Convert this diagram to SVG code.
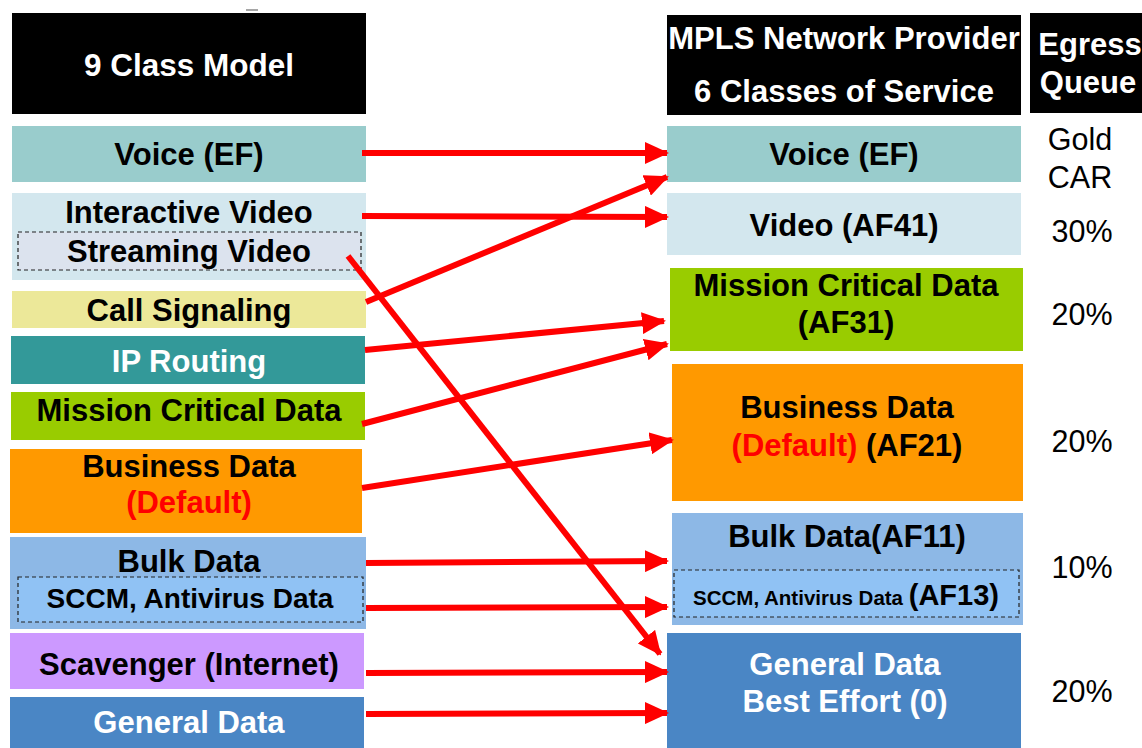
<svg xmlns="http://www.w3.org/2000/svg" width="1142" height="748" viewBox="0 0 1142 748">
<style>
text{font-family:"Liberation Sans",Arial,sans-serif;font-weight:bold;text-anchor:middle;fill:#000}
.w{fill:#fff}
.r{fill:#ff0000}
.lbl{font-size:31px}
.hd{font-size:31.5px}
.pct{font-weight:normal;font-size:30.5px}
.dash{stroke:#222;stroke-width:1.2;stroke-dasharray:4 3}
.arr{stroke:#ff0000;stroke-width:6;fill:none;marker-end:url(#ah)}
</style>
<defs>
<marker id="ah" markerUnits="userSpaceOnUse" markerWidth="24" markerHeight="22" refX="22" refY="11" orient="auto">
<path d="M0,0 L24,11 L0,22 Z" fill="#ff0000"/>
</marker>
</defs>
<rect width="1142" height="748" fill="#fff"/>
<line x1="246" y1="10" x2="258" y2="10" stroke="#888" stroke-width="1.5"/>

<g id="left-header"><rect x="12" y="13" width="354" height="101" fill="#000"/><text x="189" y="76" class="w hd">9 Class Model</text></g>
<g id="l-voice"><rect x="12" y="126" width="354" height="56" fill="#99cccc"/><text x="189" y="165" class="lbl">Voice (EF)</text></g>
<g id="l-video"><rect x="12" y="193" width="354" height="87" fill="#d3e7ee"/><rect x="18" y="232" width="343" height="38" fill="#dce3ee" class="dash"/><text x="189" y="223" class="lbl">Interactive Video</text><text x="189" y="262" class="lbl">Streaming Video</text></g>
<g id="l-call"><rect x="12" y="291" width="354" height="37" fill="#ece899"/><text x="189" y="321" class="lbl">Call Signaling</text></g>
<g id="l-ip"><rect x="11" y="336" width="354" height="48" fill="#339999"/><text x="189" y="372" class="lbl w">IP Routing</text></g>
<g id="l-mission"><rect x="11" y="392" width="354" height="48" fill="#99cc00"/><text x="189" y="421" class="lbl">Mission Critical Data</text></g>
<g id="l-business"><rect x="10" y="449" width="352" height="84" fill="#ff9900"/><text x="189" y="477" class="lbl">Business Data</text><text x="189" y="513" class="lbl r">(Default)</text></g>
<g id="l-bulk"><rect x="10" y="537" width="356" height="92" fill="#8db8e6"/><rect x="18" y="577" width="345" height="45" fill="#90c2f4" class="dash"/><text x="189" y="572" class="lbl">Bulk Data</text><text x="190" y="608" font-size="28">SCCM, Antivirus Data</text></g>
<g id="l-scavenger"><rect x="10" y="633" width="354" height="56" fill="#cc99ff"/><text x="189" y="675" class="lbl">Scavenger (Internet)</text></g>
<g id="l-general"><rect x="10" y="697" width="354" height="51" fill="#4a86c5"/><text x="189" y="733" class="lbl w">General Data</text></g>

<g id="right-header"><rect x="667" y="15" width="354" height="100" fill="#000"/><text x="844" y="49" class="w" font-size="31">MPLS Network Provider</text><text x="844" y="102" class="w" font-size="31">6 Classes of Service</text></g>
<g id="egress-header"><rect x="1030" y="13" width="112" height="100" fill="#000"/><text x="1090" y="55" class="w" font-size="31">Egress</text><text x="1088" y="93" class="w" font-size="31">Queue</text></g>
<g id="r-voice"><rect x="667" y="126" width="354" height="56" fill="#99cccc"/><text x="844" y="165" class="lbl">Voice (EF)</text></g>
<g id="r-video"><rect x="667" y="193" width="354" height="62" fill="#d3e7ee"/><text x="844" y="236" class="lbl">Video (AF41)</text></g>
<g id="r-mission"><rect x="670" y="268" width="353" height="83" fill="#99cc00"/><text x="846" y="296" class="lbl">Mission Critical Data</text><text x="846" y="333" class="lbl">(AF31)</text></g>
<g id="r-business"><rect x="672" y="364" width="351" height="137" fill="#ff9900"/><text x="847" y="418" class="lbl">Business Data</text><text x="847" y="456" class="lbl"><tspan class="r">(Default)</tspan> (AF21)</text></g>
<g id="r-bulk"><rect x="672" y="513" width="351" height="112" fill="#8db8e6"/><rect x="674" y="570" width="345" height="47" fill="#90c2f4" class="dash"/><text x="847" y="547" class="lbl">Bulk Data(AF11)</text><text x="846" y="605"><tspan font-size="20.5">SCCM, Antivirus  Data </tspan><tspan font-size="29">(AF13)</tspan></text></g>
<g id="r-general"><rect x="667" y="633" width="354" height="115" fill="#4a86c5"/><text x="845" y="675" class="lbl w">General Data</text><text x="845" y="712" class="lbl w">Best Effort (0)</text></g>

<g id="egress">
<text x="1080" y="150" class="pct">Gold</text>
<text x="1080" y="188" class="pct">CAR</text>
<text x="1082" y="242" class="pct">30%</text>
<text x="1082" y="325" class="pct">20%</text>
<text x="1082" y="452" class="pct">20%</text>
<text x="1082" y="578" class="pct">10%</text>
<text x="1082" y="702" class="pct">20%</text>
</g>

<g id="connectors">
<line class="arr" x1="362" y1="153" x2="667" y2="153"/>
<line class="arr" x1="362" y1="216" x2="667" y2="217"/>
<line class="arr" x1="366" y1="302" x2="667" y2="177"/>
<line class="arr" x1="348" y1="256" x2="660" y2="654"/>
<line class="arr" x1="365" y1="350" x2="664" y2="321"/>
<line class="arr" x1="362" y1="424" x2="667" y2="344"/>
<line class="arr" x1="362" y1="488" x2="672" y2="440"/>
<line class="arr" x1="366" y1="563" x2="667" y2="561"/>
<line class="arr" x1="366" y1="608" x2="667" y2="607"/>
<line class="arr" x1="366" y1="673" x2="667" y2="672"/>
<line class="arr" x1="366" y1="714" x2="667" y2="713"/>
</g>
</svg>
